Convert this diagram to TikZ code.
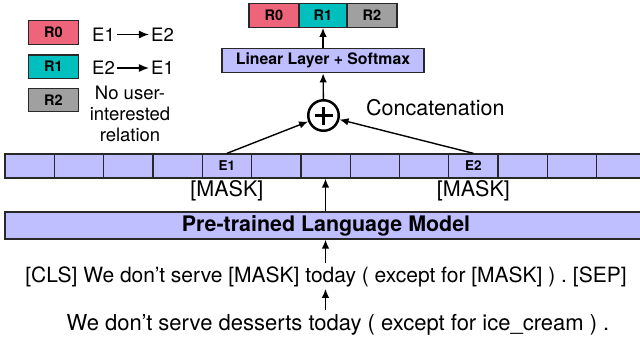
\documentclass[tikz,border=0pt]{standalone}
\usepackage{fontspec}
\setmainfont{TeX Gyre Heros}
\usetikzlibrary{arrows.meta,positioning}
\definecolor{cellblue}{RGB}{191,191,255}
\definecolor{rzero}{RGB}{238,100,122}
\definecolor{rone}{RGB}{0,191,191}
\definecolor{rtwo}{RGB}{160,160,160}
\definecolor{edgegray}{RGB}{40,40,40}

\begin{document}
\begin{tikzpicture}[x=1pt,y=-1pt,
    cell/.style={shape=rectangle,draw=edgegray,fill=cellblue,line width=1.3pt,minimum width=49.3pt,minimum height=24pt,inner sep=0pt,font=\fontsize{13.5}{15}\selectfont\bfseries},
    rbox/.style={shape=rectangle,draw=edgegray,line width=1.3pt,minimum width=50pt,minimum height=23.5pt,inner sep=0pt,font=\fontsize{14.5}{16}\selectfont\bfseries},
    plain/.style={inner sep=0pt,font=\fontsize{21.5}{25}\selectfont},
    small/.style={inner sep=0pt,font=\fontsize{18.5}{21}\selectfont},
    arr/.style={-{Latex[length=9pt,width=7.5pt]},line width=1.4pt}]
        \useasboundingbox (0,0) rectangle (640,341);
        \clip (0,0) rectangle (640,341);

        % legend
        \node[rbox,fill=rzero] (K0) at (53.3,32.5) {R0};
        \node[rbox,fill=rone]  (K1) at (53.3,66.7) {R1};
        \node[rbox,fill=rtwo]  (K2) at (53.3,100) {R2};
        \node[small] (A1) at (103.5,34.5) {E1};
        \node[small] (A2) at (162.5,34.5) {E2};
        \node[small] (B1) at (103.5,68) {E2};
        \node[small] (B2) at (162.5,68) {E1};
        \node[small,align=center] (NR) at (130,114) {No user-\\interested\\relation};
        \path [arr,-{Latex[length=10pt,width=8pt]},shorten <=2pt,shorten >=2pt](A1) edge (A2);
        \path [arr,-{Latex[length=10pt,width=8pt]},shorten <=2pt,shorten >=2pt](B1) edge (B2);

        % output
        \node[rbox,fill=rzero] (P0) at (274,15.5) {R0};
        \node[rbox,fill=rone,minimum width=48pt] (P1) at (323,15.5) {R1};
        \node[rbox,fill=rtwo] (P2) at (372,15.5) {R2};
        \node[rbox,fill=cellblue,minimum width=202pt,minimum height=24.5pt,font=\fontsize{15.8}{17}\selectfont\bfseries] (LIN) at (323,60.5) {Linear Layer + Softmax};
        \node[shape=circle,draw=black,line width=2.5pt,minimum size=30.5pt,inner sep=0pt] (C) at (323.5,115.5) {};
        \draw[line width=2.8pt] (C.center) ++(-9,0) -- ++(18,0);
        \draw[line width=2.8pt] (C.center) ++(0,-9) -- ++(0,18);
        \node[plain,anchor=west] (CAT) at (366,108) {Concatenation};

        % token row
        \node[cell] (T1)  at (29.7,166) {};
        \node[cell] (T2)  at (79.0,166) {};
        \node[cell] (T3)  at (128.3,166) {};
        \node[cell] (T4)  at (177.6,166) {};
        \node[cell] (T5)  at (226.9,166) {E1};
        \node[cell] (T6)  at (276.2,166) {};
        \node[cell] (T7)  at (325.5,166) {};
        \node[cell] (T8)  at (374.8,166) {};
        \node[cell] (T9)  at (424.1,166) {};
        \node[cell] (T10) at (473.4,166) {E2};
        \node[cell] (T11) at (522.7,166) {};
        \node[cell] (T12) at (572.0,166) {};
        \node[cell] (T13) at (621.3,166) {};
        \node[plain,below=2pt of T5]  (M1) {[MASK]};
        \node[plain,below=2pt of T10] (M2) {[MASK]};

        % encoder and input
        \node[cell,minimum width=642pt,minimum height=27pt,font=\fontsize{21.4}{23}\selectfont\bfseries] (PLM) at (326,225.5) {Pre-trained Language Model};
        \node[plain,anchor=base,font=\fontsize{21}{25}\selectfont] (S1) at (326,282) {[CLS] We don’t serve [MASK] today ( except for [MASK] ) . [SEP]};
        \node[plain,anchor=base,font=\fontsize{22}{25}\selectfont] (S2) at (338,330) {We don’t serve desserts today ( except for ice\_cream ) .};

        \path [arr](T5.north) edge (C);
        \path [arr](T10.north) edge (C);
        \path [arr](C) edge (LIN);
        \path [arr](LIN) edge (P1);
        \path [arr](PLM.north -| T7.south) edge (T7.south);
        \path [arr,shorten <=3pt](S1.north -| T7.south) edge (PLM.south -| T7.south);
        \path [arr,shorten <=4pt,shorten >=2pt](S2.north -| T7.south) edge (S1.south -| T7.south);
    \end{tikzpicture}
\end{document}
